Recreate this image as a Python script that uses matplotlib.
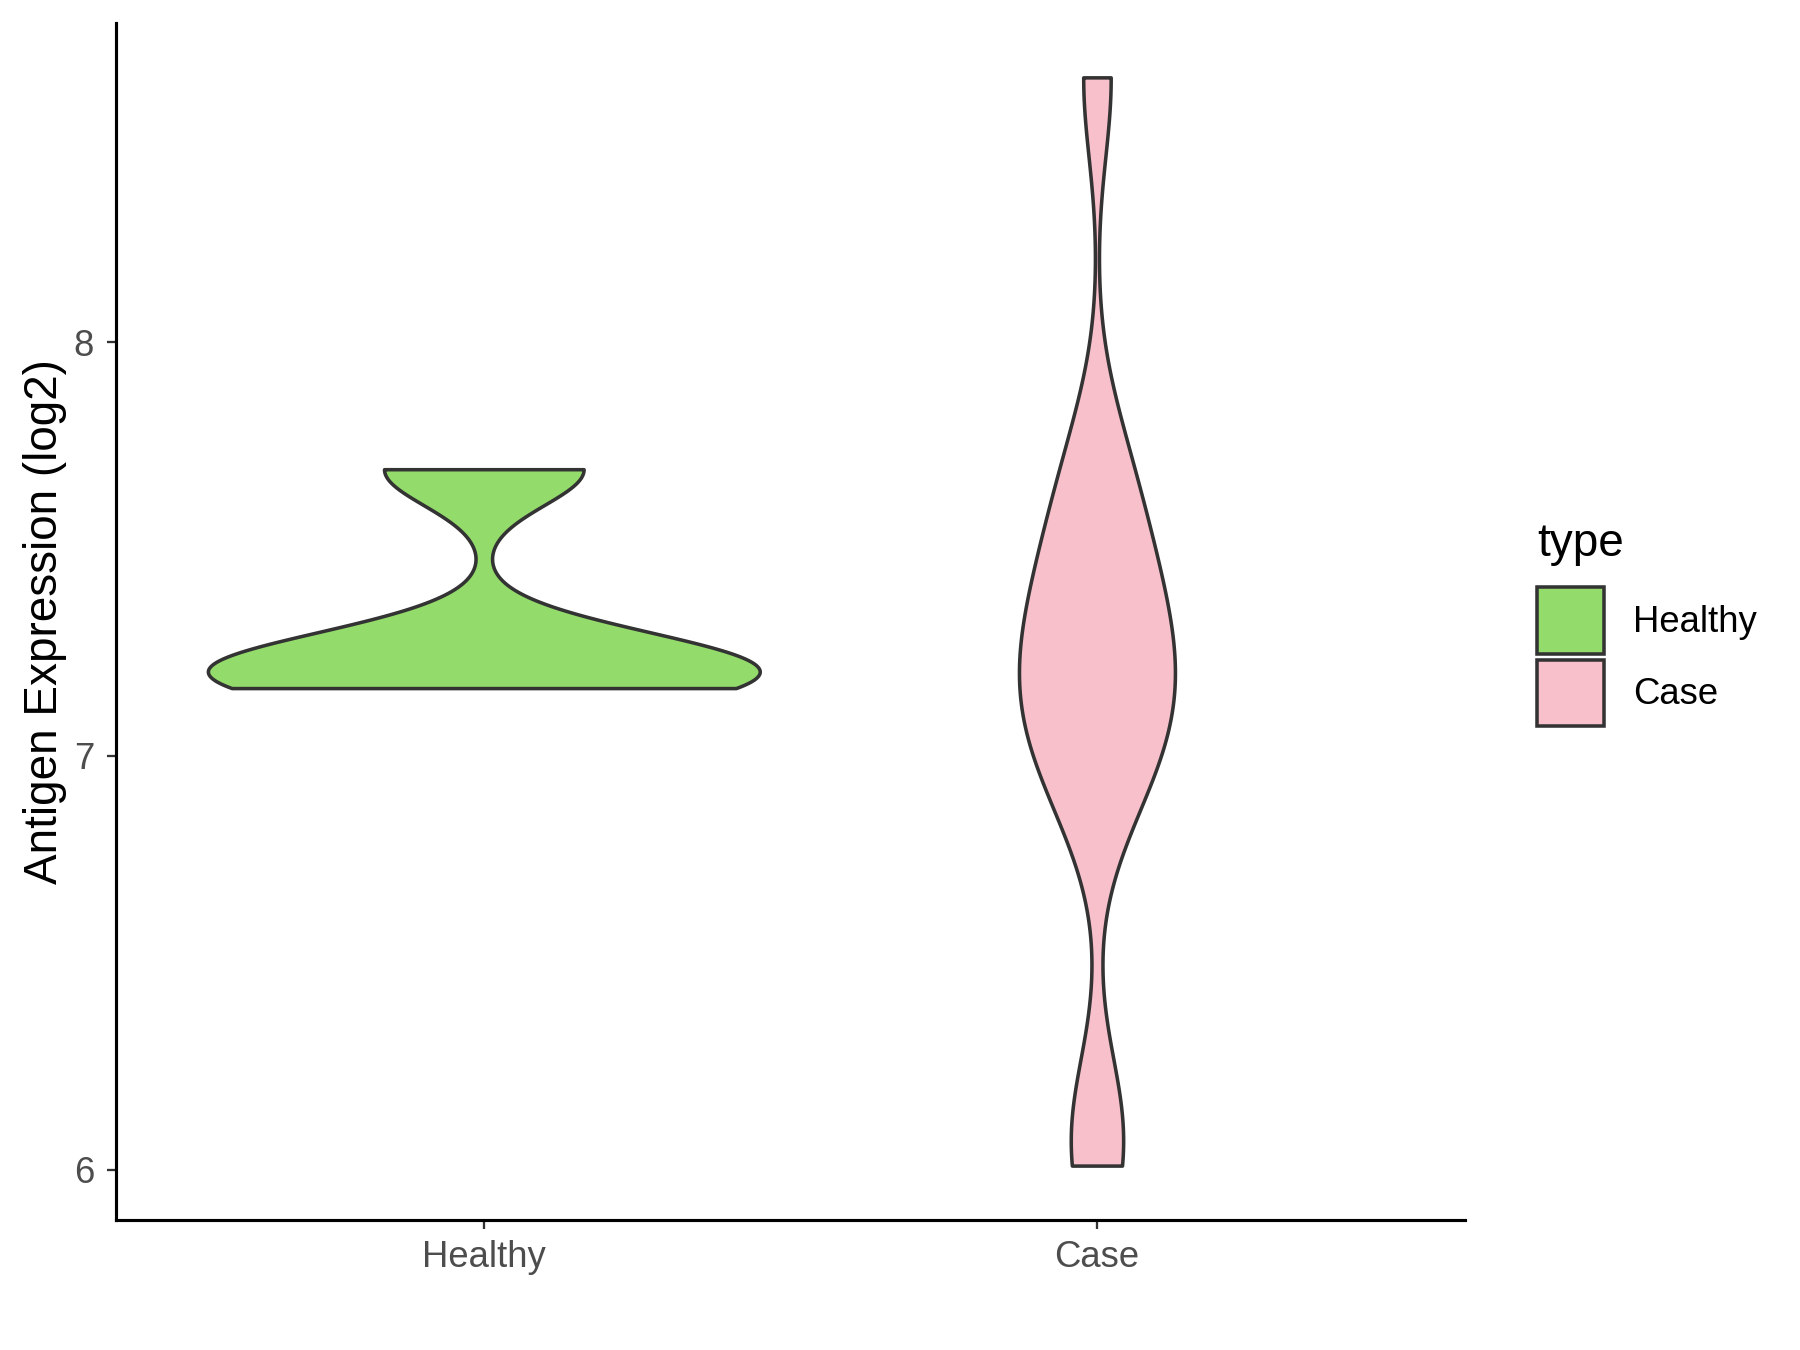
import matplotlib.pyplot as plt
import numpy as np
from matplotlib.patches import Patch

plt.rcParams['font.family'] = ['Liberation Sans', 'DejaVu Sans']

# sample values per group (log2 expression)
groups = ['Healthy', 'Case']
healthy_values = [7.164, 7.20, 7.25, 7.693]
case_values = [6.01, 6.13, 6.88, 6.99, 7.07, 7.14, 7.21, 7.28, 7.37, 7.47, 7.59, 7.75, 8.64]
fill_colors = ['#93DB6A', '#F8C0CB']
y_ticks = [6, 7, 8]


def bw_nrd0(x):
    # R's default bandwidth rule
    q75, q25 = np.percentile(x, [75, 25])
    lo = min(np.std(x, ddof=1), (q75 - q25) / 1.34)
    return 0.9 * lo * len(x) ** -0.2


def trimmed_density(x, n=512):
    x = np.asarray(x, dtype=float)
    bw = bw_nrd0(x)
    grid = np.linspace(x.min(), x.max(), n)
    k = np.exp(-0.5 * ((grid[:, None] - x[None, :]) / bw) ** 2)
    dens = k.sum(axis=1) / (len(x) * bw * np.sqrt(2 * np.pi))
    return grid, dens


fig = plt.figure(figsize=(12, 9), dpi=150)
ax = fig.add_axes([0.0644, 0.0963, 0.7494, 0.8867])

dens_list = [trimmed_density(v) for v in [healthy_values, case_values]]
dmax = max(d.max() for _, d in dens_list)

for i, ((grid, dens), color) in enumerate(zip(dens_list, fill_colors)):
    half = 0.45 * dens / dmax
    ax.fill_betweenx(grid, i + 1 - half, i + 1 + half, facecolor=color,
                     edgecolor='#333333', linewidth=1.7, joinstyle='round')

all_vals = np.concatenate([healthy_values, case_values])
lo, hi = all_vals.min(), all_vals.max()
pad = 0.05 * (hi - lo)
ax.set_ylim(lo - pad, hi + pad)
ax.set_xlim(0.4, 2.6)
ax.set_xticks([1, 2])
ax.set_xticklabels(groups)
ax.set_yticks(y_ticks)
ax.set_ylabel('Antigen Expression (log2)', fontsize=22, labelpad=3)

for s in ['top', 'right']:
    ax.spines[s].set_visible(False)
for s in ['left', 'bottom']:
    ax.spines[s].set_linewidth(1.5)
    ax.spines[s].set_color('black')
ax.tick_params(axis='both', length=4.5, width=1.1, color='#333333',
               labelcolor='#4D4D4D', labelsize=17.5)
ax.tick_params(axis='y', pad=6)
ax.tick_params(axis='x', pad=5)

# legend
handles = [Patch(facecolor=c, edgecolor='#333333', linewidth=1.7, label=g)
           for g, c in zip(groups, fill_colors)]
fig.legend(handles=handles, loc='center left', bbox_to_anchor=(0.8539, 0.5136),
           frameon=False, fontsize=17.5, handlelength=1.83, handleheight=2.43,
           labelspacing=0.16, handletextpad=0.8, borderpad=0, borderaxespad=0)
fig.text(0.8539, 0.5881, 'type', fontsize=22, va='baseline', ha='left')

fig.savefig('out.png', dpi=150)
